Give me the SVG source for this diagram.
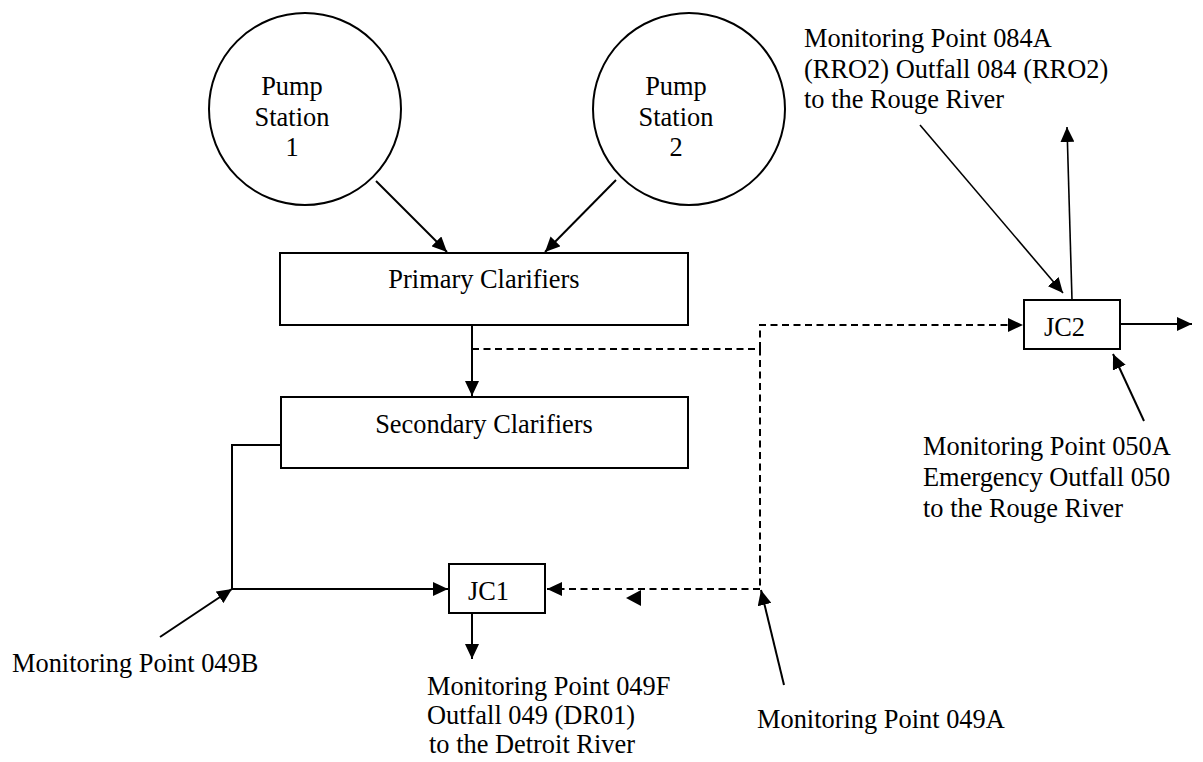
<svg xmlns="http://www.w3.org/2000/svg" width="1203" height="762" viewBox="0 0 1203 762">
<style>
  .shape { fill: #fff; stroke: #000; stroke-width: 2; }
  .lbl { font-family: "Liberation Serif", "Times New Roman", serif; font-size: 26.4px; fill: #000; }
  .mid { text-anchor: middle; }
  .ln { fill: none; stroke: #000; stroke-width: 2; }
  .thin { stroke-width: 1.6; }
  .dash { stroke-dasharray: 7 4.5; }
</style>
<defs>
  <marker id="ah" markerUnits="userSpaceOnUse" markerWidth="16" markerHeight="14" refX="15" refY="7" orient="auto">
    <path d="M0,0 L15,7 L0,14 Z" fill="#000"/>
  </marker>
</defs>
<rect width="1203" height="762" fill="#fff"/>

<g id="connectors">
  <line class="ln" x1="376" y1="181" x2="447" y2="252" marker-end="url(#ah)"/>
  <line class="ln" x1="616" y1="180" x2="545" y2="252" marker-end="url(#ah)"/>
  <line class="ln" x1="472" y1="325" x2="472" y2="396" marker-end="url(#ah)"/>
  <polyline class="ln dash" points="472,349 760,349 760,590"/>
  <polyline class="ln dash" points="760,349 760,325 1023,325" marker-end="url(#ah)"/>
  <line class="ln dash" x1="760" y1="589" x2="547" y2="589" marker-end="url(#ah)"/>
  <polygon points="626,598 641,590 641,606" fill="#000"/>
  <polyline class="ln" points="281,445 232,445 232,589 448,589" marker-end="url(#ah)"/>
  <line class="ln" x1="160" y1="637" x2="232" y2="589" marker-end="url(#ah)"/>
  <line class="ln" x1="472" y1="613" x2="472" y2="659" marker-end="url(#ah)"/>
  <line class="ln" x1="784" y1="685" x2="761" y2="590" marker-end="url(#ah)"/>
  <line class="ln" x1="1120" y1="324" x2="1192" y2="324" marker-end="url(#ah)"/>
  <line class="ln thin" x1="1072" y1="300" x2="1067" y2="127" marker-end="url(#ah)"/>
  <line class="ln thin" x1="920" y1="125" x2="1063" y2="293" marker-end="url(#ah)"/>
  <line class="ln" x1="1144" y1="421" x2="1113" y2="354" marker-end="url(#ah)"/>
</g>

<g id="pump1">
  <circle class="shape" cx="305" cy="109" r="96"/>
  <text class="lbl mid" x="292" y="95">Pump</text>
  <text class="lbl mid" x="292" y="126">Station</text>
  <text class="lbl mid" x="292" y="156">1</text>
</g>
<g id="pump2">
  <circle class="shape" cx="689" cy="109" r="96"/>
  <text class="lbl mid" x="676" y="95">Pump</text>
  <text class="lbl mid" x="676" y="126">Station</text>
  <text class="lbl mid" x="676" y="156">2</text>
</g>
<g id="primary">
  <rect class="shape" x="280" y="253" width="408" height="72"/>
  <text class="lbl mid" x="484" y="288">Primary Clarifiers</text>
</g>
<g id="secondary">
  <rect class="shape" x="281" y="397" width="407" height="71"/>
  <text class="lbl mid" x="484" y="433">Secondary Clarifiers</text>
</g>
<g id="jc1">
  <rect class="shape" x="449" y="564" width="96" height="49"/>
  <text class="lbl" x="468" y="600">JC1</text>
</g>
<g id="jc2">
  <rect class="shape" x="1024" y="300" width="96" height="49"/>
  <text class="lbl" x="1044" y="336">JC2</text>
</g>
<g id="label-084A">
  <text class="lbl" x="804" y="47">Monitoring Point 084A</text>
  <text class="lbl" x="804" y="78">(RRO2) Outfall 084 (RRO2)</text>
  <text class="lbl" x="804" y="108">to the Rouge River</text>
</g>
<g id="label-050A">
  <text class="lbl" x="923" y="455">Monitoring Point 050A</text>
  <text class="lbl" x="923" y="486">Emergency Outfall 050</text>
  <text class="lbl" x="923" y="517">to the Rouge River</text>
</g>
<g id="label-049B">
  <text class="lbl" x="12" y="672">Monitoring Point 049B</text>
</g>
<g id="label-049F">
  <text class="lbl" x="427" y="695">Monitoring Point 049F</text>
  <text class="lbl" x="427" y="724">Outfall 049 (DR01)</text>
  <text class="lbl" x="429" y="753">to the Detroit River</text>
</g>
<g id="label-049A">
  <text class="lbl" x="757" y="728">Monitoring Point 049A</text>
</g>
</svg>
